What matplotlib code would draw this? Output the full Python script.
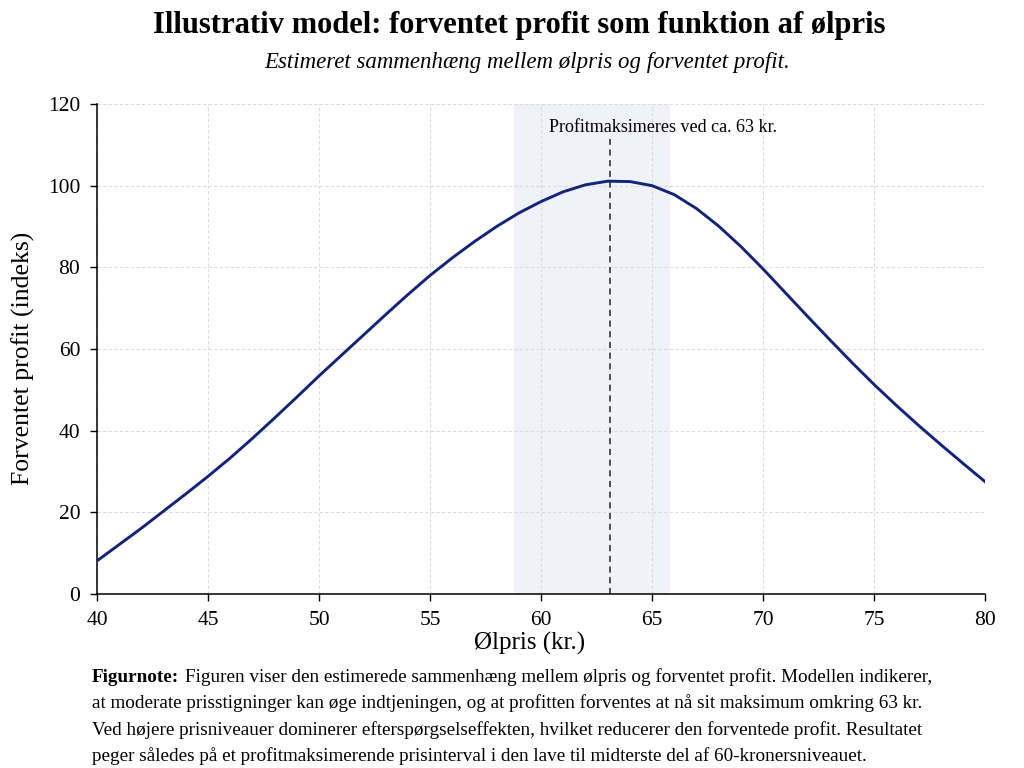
import matplotlib
matplotlib.use("Agg")
import matplotlib.pyplot as plt

# Data
price = list(range(40, 81))
profit = [8.1, 12.1, 16.1, 20.3, 24.5, 28.8, 33.3, 38.1, 43.1, 48.2,
          53.4, 58.4, 63.4, 68.4, 73.3, 78.0, 82.3, 86.3, 90.0, 93.3,
          96.1, 98.5, 100.2, 101.1, 101.0, 100.0, 97.8, 94.4, 90.1, 85.1,
          79.6, 73.8, 68.0, 62.3, 56.7, 51.3, 46.2, 41.3, 36.6, 32.0, 27.5]
optimum = 63.1
band = [58.8, 65.8]
xticks = [40, 45, 50, 55, 60, 65, 70, 75, 80]
yticks = [0, 20, 40, 60, 80, 100, 120]

title = 'Illustrativ model: forventet profit som funktion af ølpris'
subtitle = 'Estimeret sammenhæng mellem ølpris og forventet profit.'
note_lines = [
    "Figuren viser den estimerede sammenhæng mellem ølpris og forventet profit. Modellen indikerer,",
    "at moderate prisstigninger kan øge indtjeningen, og at profitten forventes at nå sit maksimum omkring 63 kr.",
    "Ved højere prisniveauer dominerer efterspørgselseffekten, hvilket reducerer den forventede profit. Resultatet",
    "peger således på et profitmaksimerende prisinterval i den lave til midterste del af 60-kronersniveauet.",
]

plt.rcParams['font.family'] = ['Liberation Serif', 'DejaVu Serif']

fig = plt.figure(figsize=(10.24, 7.68), dpi=100)
ax = fig.add_axes([0.0947, 0.2266, 0.8673, 0.638])

ax.axvspan(band[0], band[1], color='#f1f2f9', lw=0, zorder=0)
ax.plot(price, profit, color='#14237a', lw=2.1, zorder=3)
ax.vlines(optimum, 0, 111.4, colors='#222222', linestyles=(0, (4, 3)), lw=1.1, zorder=2)
ax.text(65.5, 114.2, 'Profitmaksimeres ved ca. 63 kr.', ha='center', va='center', fontsize=13)

ax.set_xlim(40, 80)
ax.set_ylim(0, 120)
ax.set_xticks(xticks)
ax.set_yticks(yticks)
ax.tick_params(labelsize=15.5, length=5, width=1, pad=7)
ax.grid(True, color='#dcdcdc', linestyle=(0, (3, 2)), lw=0.8)
ax.set_axisbelow(True)
for s in ['top', 'right']:
    ax.spines[s].set_visible(False)
ax.spines['left'].set_linewidth(1.1)
ax.spines['bottom'].set_linewidth(1.1)

ax.set_xlabel('Ølpris (kr.)', fontsize=18)
ax.xaxis.set_label_coords(0.4876, -0.078)
ax.set_ylabel('Forventet profit (indeks)', fontsize=18.5)
ax.yaxis.set_label_coords(-0.07, 0.48)

fig.text(0.507, 0.967, title, ha='center', va='center', fontsize=22, fontweight='bold')
fig.text(0.515, 0.919, subtitle, ha='center', va='center', fontsize=16.5, style='italic')

# footnote: bold label inline with the first line
fig.canvas.draw()
renderer = fig.canvas.get_renderer()
x0 = 92 / 1024
y0 = 1 - 677 / 768
dy = 26.5 / 768
lab = fig.text(x0, y0, 'Figurnote:', fontsize=13.8, fontweight='bold', va='center')
w = lab.get_window_extent(renderer).width / 1024
for i, line in enumerate(note_lines):
    xs = x0 + w + 6 / 1024 if i == 0 else x0
    fig.text(xs, y0 - i * dy, line, fontsize=13.8, va='center')

fig.savefig('out.png', dpi=100)
